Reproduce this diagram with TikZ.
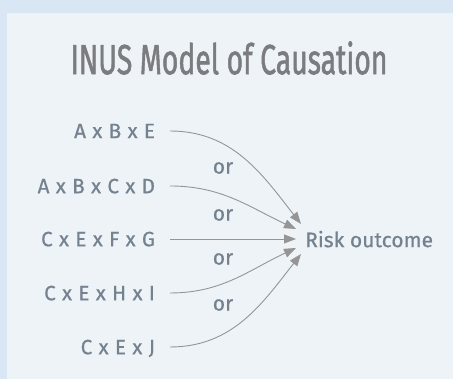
\documentclass[tikz,border=0pt]{standalone}
\usepackage{fontspec}
\setmainfont{Fira Sans}
\newfontfamily\termfont{Fira Sans}[LetterSpace=4,FakeBold=0.6]
\newfontfamily\plainfont{Fira Sans}[FakeBold=0.6]
\newfontfamily\titlefont{Fira Sans}[FakeBold=1.6]
\usetikzlibrary{arrows.meta}
\definecolor{outerbg}{HTML}{D9E6F3}
\definecolor{panelbg}{HTML}{EEF3F7}
\definecolor{titlegray}{HTML}{7B7C80}
\definecolor{slate}{HTML}{74818F}
\definecolor{linegray}{HTML}{959595}
\tikzset{
  term/.style={anchor=east,inner sep=0pt,outer xsep=15pt,text depth=0pt,
    text=slate,font=\termfont\fontsize{20.7}{21}\selectfont},
  orlabel/.style={inner sep=0pt,text=slate,font=\plainfont\fontsize{21}{21}\selectfont},
  cause/.style={draw=linegray,line width=0.9pt,
    -{Triangle[length=12pt,width=9pt]}}
}

\begin{document}
\begin{tikzpicture}[x=1pt,y=1pt]
        \useasboundingbox (0,0) rectangle (453,379);
        \fill[outerbg] (0,0) rectangle (453,379);
        \fill[panelbg] (7,0) rectangle (453,366);

        \node[inner sep=0pt,text=titlegray] (title) at (229,321)
            {\scalebox{0.675}[1]{\titlefont\fontsize{42}{42}\selectfont INUS Model of Causation}};

        \node[term] (abe) at (170,248) {A x B x E};
        \node[term] (abcd) at (170,193) {A x B x C x D};
        \node[term] (cefg) at (170,140) {C x E x F x G};
        \node[term] (cehi) at (170,86) {C x E x H x I};
        \node[term] (cej) at (170,32) {C x E x J};

        \node[inner sep=0pt,anchor=west,text depth=0pt,text=slate,
            font=\plainfont\fontsize{21}{21}\selectfont] (risk) at (305,140) {Risk outcome};

        \node[orlabel] (or1) at (223,211) {or};
        \node[orlabel] (or2) at (223,164) {or};
        \node[orlabel] (or3) at (223,120) {or};
        \node[orlabel] (or4) at (223,74) {or};

        \draw[cause] (abe.east) to[out=0,in=128] ([xshift=-4pt,yshift=15pt]risk.west);
        \draw[cause] (abcd.east) to[out=0,in=155] ([xshift=-9pt,yshift=10pt]risk.west);
        \draw[cause] (cefg.east) -- ([xshift=-9pt]risk.west);
        \draw[cause] (cehi.east) to[out=0,in=205] ([xshift=-9pt,yshift=-9pt]risk.west);
        \draw[cause] (cej.east) to[out=0,in=232] ([xshift=-4pt,yshift=-15pt]risk.west);
\end{tikzpicture}
\end{document}
